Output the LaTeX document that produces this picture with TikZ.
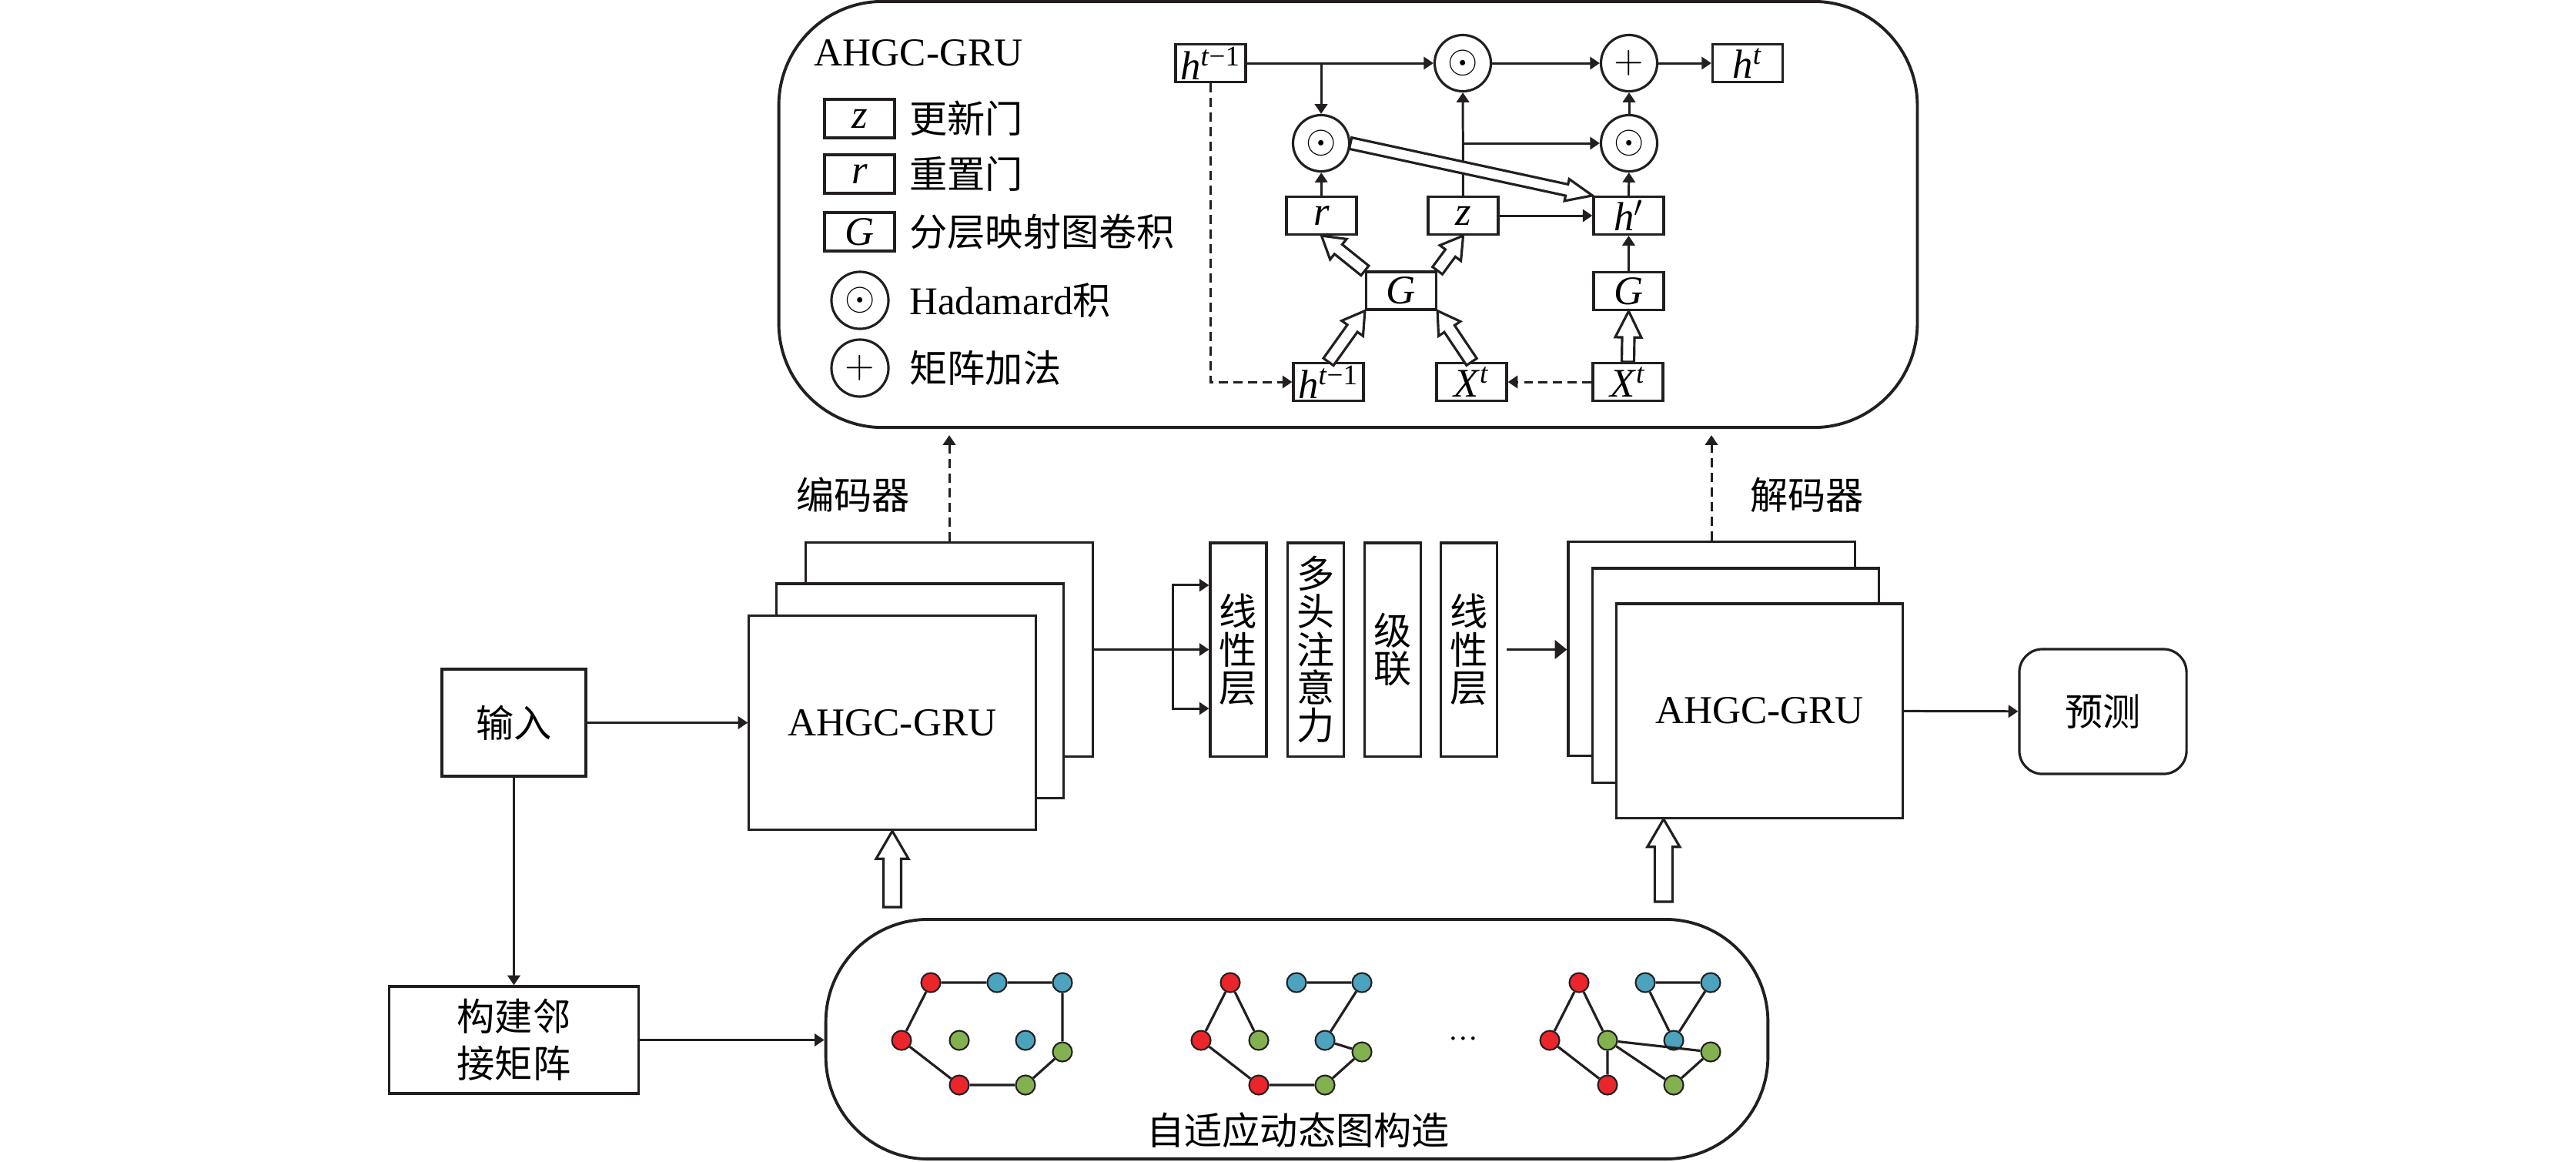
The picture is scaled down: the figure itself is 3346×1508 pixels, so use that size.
\documentclass[tikz,border=0pt]{standalone}
\usepackage{fontspec}
\setmainfont{Liberation Serif}
\newfontfamily\cjk{Noto Sans CJK SC}
\usepackage{tikz}
\usetikzlibrary{arrows.meta, positioning, calc}
\definecolor{PenBlack}{RGB}{35,31,32}
\definecolor{NodeRed}{RGB}{234,37,43}
\definecolor{NodeBlue}{RGB}{76,163,190}
\definecolor{NodeGreen}{RGB}{132,177,80}
\tikzset{
  box/.style={rectangle, draw=PenBlack, fill=white, line width=0.9pt, inner sep=0pt},
  gate/.style={box, minimum width=0.91cm, minimum height=0.49cm, font=\fontsize{15}{15}\selectfont},
  op/.style={circle, draw=PenBlack, fill=white, line width=0.9pt, minimum size=0.73cm,
    inner sep=0pt, font=\fontsize{14}{14}\selectfont},
  layer/.style={box, minimum width=0.73cm, minimum height=2.77cm, align=center,
    font=\cjk\fontsize{14}{14}\selectfont},
  cell/.style={box, minimum width=3.72cm, minimum height=2.78cm, font=\fontsize{14.6}{15}\selectfont},
  panel/.style={draw=PenBlack, fill=white, line width=1.1pt},
  cn/.style={font=\cjk\fontsize{14}{14}\selectfont, inner sep=0pt},
  vtx/.style={circle, draw=PenBlack, line width=0.6pt, minimum size=0.25cm, inner sep=0pt},
  edge/.style={draw=PenBlack, line width=0.9pt},
  wire/.style={draw=PenBlack, line width=0.85pt},
  arrow/.style={wire, -{Triangle[length=3.6pt, width=4.6pt]}},
  bigarrow/.style={wire, -{Triangle[length=4.5pt, width=7pt]}},
  dasharrow/.style={arrow, dash pattern=on 3.4pt off 2pt},
  hollow/.style={draw=PenBlack, fill=white, line width=0.9pt}
}
% start, tip, half shaft, half head, head length
\newcommand{\hollowarrow}[5]{%
  \coordinate (hb) at ($(#2)!#5!(#1)$);
  \draw[hollow] ($(#1)!#3!90:(#2)$) -- ($(hb)!#3!90:(#2)$) -- ($(hb)!#4!90:(#2)$) -- (#2)
    -- ($(hb)!#4!-90:(#2)$) -- ($(hb)!#3!-90:(#2)$) -- ($(#1)!#3!-90:(#2)$) -- cycle;
}

\begin{document}
\begin{tikzpicture}[x=0.01cm, y=-0.01cm]
  \useasboundingbox (0,0) rectangle (3346,1508);

  \node[panel, rounded corners=1.35cm, minimum width=14.78cm, minimum height=5.53cm] (grubox) at (1751,278.5) {};
  \node[panel, rounded corners=1.33cm, minimum width=12.23cm, minimum height=3.11cm] (dyn) at (1684.5,1349.5) {};

  \node[anchor=west, inner sep=0pt, font=\fontsize{14.6}{15}\selectfont] (grutitle) at (1057,69) {AHGC-GRU};
  \node[gate, minimum height=0.5cm] (lgz) at (1116.5,154) {\textit{z}};
  \node[gate, minimum height=0.5cm] (lgr) at (1116.5,226) {\textit{r}};
  \node[gate, minimum height=0.5cm] (lgg) at (1116.5,301) {\textit{G}};
  \node[op, minimum size=0.74cm] (lgdot) at (1117,390) {$\odot$};
  \node[op, minimum size=0.74cm] (lgplus) at (1117,478) {$+$};
  \node[cn, right=0.17cm of lgz] (lgztext) {更新门};
  \node[cn, right=0.17cm of lgr] (lgrtext) {重置门};
  \node[cn, right=0.17cm of lgg] (lggtext) {分层映射图卷积};
  \node[inner sep=0pt, right=0.25cm of lgdot, font=\rmfamily\fontsize{14.5}{15}\selectfont] (lgdottext) {Hadamard{\cjk\fontsize{14}{14}\selectfont 积}};
  \node[cn, right=0.25cm of lgplus] (lgplustext) {矩阵加法};

  \node[gate] (hprev) at (1572.5,82) {\textit{h}\textsuperscript{\textit{t}−1}};
  \node[op] (odtop) at (1900,82) {$\odot$};
  \node[op] (plus) at (2116,82) {$+$};
  \node[gate] (hnew) at (2270,82) {\textit{h}\textsuperscript{\textit{t}}};
  \node[op] (odr) at (1716,186) {$\odot$};
  \node[op] (odz) at (2116,186) {$\odot$};
  \node[gate] (rgate) at (1716.5,280) {\textit{r}};
  \node[gate] (zgate) at (1900.5,280) {\textit{z}};
  \node[gate] (hcand) at (2115.5,280) {\textit{h}$'$};
  \node[gate] (gconv) at (1820,377.5) {\textit{G}};
  \node[gate] (gconvb) at (2115.5,378) {\textit{G}};
  \node[gate] (hin) at (1725.5,496) {\textit{h}\textsuperscript{\textit{t}−1}};
  \node[gate] (xin) at (1911.5,496) {\textit{X}\textsuperscript{\textit{t}}};
  \node[gate] (xinb) at (2114.5,496) {\textit{X}\textsuperscript{\textit{t}}};

  \draw[arrow] (hprev) -- (odtop);
  \draw[arrow] (odtop) -- (plus);
  \draw[arrow] (plus) -- (hnew);
  \draw[arrow] (odr |- hprev) -- (odr);
  \draw[arrow] (rgate) -- (odr);
  \draw[arrow] (zgate) -- (odtop);
  \draw[arrow] (zgate |- odz) -- (odz);
  \draw[arrow] (zgate) -- (hcand);
  \draw[arrow] (hcand) -- (odz);
  \draw[arrow] (odz) -- (plus);
  \draw[arrow] (gconvb) -- (hcand);
  \draw[dasharrow] (hprev) |- (hin);
  \draw[dasharrow] (xinb) -- (xin);
  \hollowarrow{odr.east}{hcand.north west}{0.075cm}{0.145cm}{0.34cm}
  \hollowarrow{gconv.north west}{rgate.south}{0.08cm}{0.17cm}{0.28cm}
  \hollowarrow{gconv.north east}{zgate.south}{0.08cm}{0.17cm}{0.28cm}
  \hollowarrow{hin.north}{gconv.south west}{0.08cm}{0.17cm}{0.28cm}
  \hollowarrow{xin.north}{gconv.south east}{0.08cm}{0.17cm}{0.28cm}
  \hollowarrow{xinb.north}{gconvb.south}{0.08cm}{0.17cm}{0.34cm}

  \node[box, cn, minimum width=1.87cm, minimum height=1.39cm] (inp) at (667.5,938.5) {输入};
  \node[box, minimum width=3.23cm, minimum height=1.39cm, align=center,
    font=\cjk\fontsize{14}{17.5}\selectfont] (adj) at (667.5,1350.5) {构建邻\\接矩阵};

  \node[cell] (encback) at (1233,843.5) {};
  \node[cell] (encmid) at (1195,897) {};
  \node[cell] (encfront) at (1159,938.5) {AHGC-GRU};
  \node[cn] (enclabel) at (1108,643) {编码器};

  \node[layer] (lin1) at (1608.5,843.5) {线\\性\\层};
  \node[layer, right=0.24cm of lin1] (mha) {多\\头\\注\\意\\力};
  \node[layer, right=0.24cm of mha] (concat) {级\\联};
  \node[layer, right=0.23cm of concat] (lin2) {线\\性\\层};

  \node[cell] (decback) at (2223,842.5) {};
  \node[cell] (decmid) at (2254.5,877) {};
  \node[cell] (decfront) at (2285.5,923) {AHGC-GRU};
  \node[cn] (declabel) at (2347,643) {解码器};
  \node[box, cn, rounded corners=0.3cm, minimum width=2.17cm, minimum height=1.62cm] (pred) at (2731.5,924) {预测};

  \draw[arrow] (inp) -- (encfront);
  \draw[arrow] (inp) -- (adj);
  \draw[arrow] (adj.east) -- (adj.east -| dyn.west);
  \coordinate (split) at (1523,843.5);
  \draw[wire] (encback.east) -- (split);
  \draw[arrow] (split) |- ([yshift=0.835cm]lin1.west);
  \draw[arrow] (split) -- (lin1.west);
  \draw[arrow] (split) |- ([yshift=-0.765cm]lin1.west);
  \draw[bigarrow, shorten <=0.11cm] (lin2.east) -- (lin2.east -| decback.west);
  \draw[arrow] (decfront) -- (pred);
  \draw[dasharrow, shorten >=0.08cm] (encback.north) -- (encback.north |- grubox.south);
  \draw[dasharrow, shorten >=0.08cm] (decback.north) -- (decback.north |- grubox.south);

  \coordinate (encfoot) at ($(encfront.south |- dyn.north)+(0,-14)$);
  \hollowarrow{encfoot}{encfront.south}{0.115cm}{0.21cm}{0.36cm}
  \coordinate (dectip) at ($(decfront.south west)+(63,0)$);
  \coordinate (decfoot) at ($(dectip |- dyn.north)+(0,-21)$);
  \hollowarrow{decfoot}{dectip}{0.115cm}{0.21cm}{0.36cm}

  \foreach \gx/\g in {1171/a, 1560/b, 2013/c} {
    \foreach \dx/\dy/\col [count=\k] in {38/1276/NodeRed, 124/1276/NodeBlue, 209/1276/NodeBlue,
        0/1351/NodeRed, 75/1351/NodeGreen, 161/1351/NodeBlue, 209/1366/NodeGreen,
        75/1409/NodeRed, 161/1409/NodeGreen}
      \node[vtx, fill=\col] (\g\k) at (\gx+\dx,\dy) {};
  }
  \draw[edge] (a1) -- (a2) -- (a3) -- (a7) -- (a9) -- (a8) -- (a4) -- (a1);
  \draw[edge] (b5) -- (b1) -- (b4) -- (b8) -- (b9) -- (b7) -- (b6) -- (b3) -- (b2);
  \draw[edge] (c5) -- (c1) -- (c4) -- (c8) -- (c5) -- (c9) -- (c7) -- (c5);
  \draw[edge] (c2) -- (c3) -- (c6) -- (c2);
  \node[font=\fontsize{11}{11}\selectfont] (ellip) at (1901,1349) {\ldots};
  \node[cn] (dynlabel) at (1686,1468) {自适应动态图构造};
\end{tikzpicture}
\end{document}
